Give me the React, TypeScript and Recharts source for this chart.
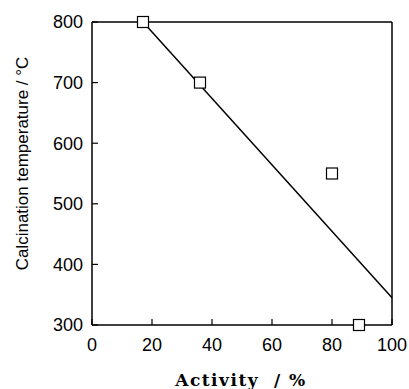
import { ScatterChart, Scatter, XAxis, YAxis, ReferenceLine, Label } from 'recharts';

const activity = [17, 36, 80, 89];
const temperature = [800, 700, 550, 300];
const fitActivity = [17, 100];
const fitTemperature = [800, 345];
const xTicks = [0, 20, 40, 60, 80, 100];
const yTicks = [300, 400, 500, 600, 700, 800];

const points = activity.map((a, i) => ({ x: a, y: temperature[i] }));
const fitLine = fitActivity.map((a, i) => ({ x: a, y: fitTemperature[i] }));

const tickStyle = { fontSize: 18, fill: '#000', fontFamily: 'Liberation Sans, Arial, sans-serif' };

function SquareMarker(props: { cx?: number; cy?: number }): React.ReactNode {
  const { cx = 0, cy = 0 } = props;
  return <rect x={cx - 5.5} y={cy - 5.5} width={11} height={11} fill="#fff" stroke="#000" strokeWidth={1.2} />;
}

function YTitle(props: { viewBox?: { x: number; y: number; width: number; height: number } }): React.ReactNode {
  const vb = props.viewBox ?? { x: 0, y: 22, width: 92, height: 303 };
  const x = vb.x + 22;
  const y = vb.y + vb.height / 2 - 10;
  return (
    <text
      x={x}
      y={y}
      transform={`rotate(-90, ${x}, ${y})`}
      textAnchor="middle"
      dominantBaseline="central"
      fontSize={17}
      fontFamily="Liberation Sans, Arial, sans-serif"
      fill="#000"
    >
      Calcination temperature / °C
    </text>
  );
}

function XTitle(props: { viewBox?: { x: number; y: number; width: number; height: number } }): React.ReactNode {
  const vb = props.viewBox ?? { x: 92, y: 325, width: 300, height: 64 };
  return (
    <text
      x={vb.x + vb.width / 2 - 1}
      y={vb.y + 61}
      textAnchor="middle"
      fontSize={17}
      fontWeight="bold"
      fontFamily="DejaVu Serif, serif"
      letterSpacing={1.5}
      fill="#000"
    >
      {'Activity\u00a0\u00a0/\u00a0%'}
    </text>
  );
}

export default function App(): React.ReactNode {
  return (
    <div style={{ position: 'absolute', left: 0, top: 0, width: 409, height: 389, background: '#fff' }}>
      <ScatterChart width={409} height={389} margin={{ top: 22, right: 17, bottom: 0, left: 0 }}>
        <XAxis
          type="number"
          dataKey="x"
          domain={[0, 100]}
          ticks={xTicks}
          height={64}
          tickSize={-6}
          tickMargin={19}
          tick={tickStyle}
          axisLine={{ stroke: '#000', strokeWidth: 1.5 }}
          tickLine={{ stroke: '#000', strokeWidth: 1.2 }}
        >
          <Label content={XTitle} />
        </XAxis>
        <YAxis
          type="number"
          dataKey="y"
          domain={[300, 800]}
          ticks={yTicks}
          width={92}
          tickSize={-6}
          tickMargin={15}
          tick={tickStyle}
          axisLine={{ stroke: '#000', strokeWidth: 1.5 }}
          tickLine={{ stroke: '#000', strokeWidth: 1.2 }}
        >
          <Label content={YTitle} />
        </YAxis>
        <ReferenceLine y={800} stroke="#000" strokeWidth={1.5} />
        <ReferenceLine x={100} stroke="#000" strokeWidth={1.5} />
        <Scatter
          data={fitLine}
          line={{ stroke: '#000', strokeWidth: 1.5 }}
          shape={() => <g />}
          isAnimationActive={false}
        />
        <Scatter data={points} shape={SquareMarker} isAnimationActive={false} />
      </ScatterChart>
    </div>
  );
}
